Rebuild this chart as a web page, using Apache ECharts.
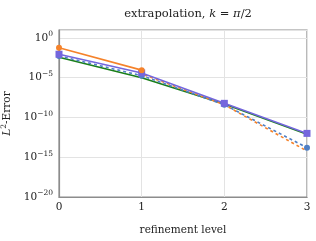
<!DOCTYPE html>
<html><head><meta charset="utf-8">
<script src="https://cdn.jsdelivr.net/npm/echarts@6/dist/echarts.min.js"></script>
<style>html,body{margin:0;padding:0;background:#fff}#c{width:316px;height:241px}</style>
</head><body><div id="c"></div>
<script>
const levels = [0, 1, 2, 3];
const orangeSolid = [6e-2, 9e-5, null, null];
const orangeDashed = [null, 3e-5, 4e-9, 6e-15];
const blueDashed = [5.5e-3, 1.8e-5, 4e-9, 1.6e-14];
const purpleSolid = [9e-3, 4e-5, 6e-9, 1e-12];
const greenSolid = [3.7e-3, 1e-5, 5e-9, 8e-13];
const yTickExps = [-20, -15, -10, -5, 0];

const FONT = 'DejaVu Serif';
const FS = 10.5;
const pairs = arr => levels.map((x, i) => [x, arr[i]]);
const sup = {'-20':'−20','-15':'−15','-10':'−10','-5':'−5','0':'0'};

const chart = echarts.init(document.getElementById('c'), null, {renderer: 'canvas'});
chart.setOption({
  animation: false,
  title: {
    text: '{n|extrapolation, }{i|k}{n| = }{i|π}{n|/2}',
    left: 183, top: 3, textAlign: 'center',
    textStyle: {fontWeight: 'normal', rich: {
      n: {fontFamily: FONT, fontSize: 11.5, fontWeight: 'normal', color: '#222'},
      i: {fontFamily: FONT, fontSize: 11.5, fontWeight: 'normal', fontStyle: 'italic', color: '#222'}
    }}
  },
  grid: {left: 59, right: 9, top: 30, bottom: 44, show: true, borderColor: '#8c8c8c', borderWidth: 1.2, containLabel: false, outerBoundsMode: 'none'},
  xAxis: {
    type: 'value', min: 0, max: 3, interval: 1,
    name: 'refinement level', nameLocation: 'middle', nameGap: 28,
    nameTextStyle: {fontFamily: FONT, fontSize: FS, color: '#222'},
    axisLine: {show: true, lineStyle: {color: '#8c8c8c', width: 1.2}},
    axisTick: {show: false},
    axisLabel: {fontFamily: FONT, fontSize: FS, color: '#222', margin: 5},
    splitLine: {show: true, lineStyle: {color: '#e3e3e3', width: 1}}
  },
  yAxis: {
    type: 'log', logBase: 10, min: 1e-20, max: 10, interval: 5,
    name: '{i|L}{s|2}{n|-Error}', nameLocation: 'middle', nameGap: 41,
    nameTextStyle: {rich: {
      i: {fontFamily: FONT, fontSize: FS, fontStyle: 'italic', color: '#222'},
      s: {fontFamily: FONT, fontSize: 7.5, color: '#222', padding: [0,0,6,0]},
      n: {fontFamily: FONT, fontSize: FS, color: '#222'}
    }},
    axisLine: {show: true, lineStyle: {color: '#8c8c8c', width: 1.2}},
    axisTick: {show: false},
    axisLabel: {
      showMaxLabel: false, margin: 6,
      formatter: v => {
        const e = Math.round(Math.log10(v));
        if (yTickExps.indexOf(e) < 0) return '';
        return '{b|10}{s|' + sup[String(e)] + '}';
      },
      rich: {
        b: {fontFamily: FONT, fontSize: FS, color: '#222'},
        s: {fontFamily: FONT, fontSize: 7.5, color: '#222', padding: [0,0,7,0]}
      }
    },
    splitLine: {show: true, lineStyle: {color: '#e3e3e3', width: 1}}
  },
  series: [
    {type: 'line', data: pairs(greenSolid), symbol: 'none', lineStyle: {color: '#1a7f1a', width: 1.6}, z: 2},
    {type: 'line', data: pairs(orangeDashed), symbol: 'none', lineStyle: {color: '#f5822a', width: 1.6, type: [3, 3], dashOffset: 3}, z: 3},
    {type: 'line', data: pairs(blueDashed), symbol: 'circle', symbolSize: 6, itemStyle: {color: '#4f7fc4'}, lineStyle: {color: '#4f7fc4', width: 1.6, type: [3, 3]}, z: 4},
    {type: 'line', data: pairs(purpleSolid), symbol: 'rect', symbolSize: 7, itemStyle: {color: '#7466dd'}, lineStyle: {color: '#7466dd', width: 1.6}, z: 5},
    {type: 'line', data: pairs(orangeSolid), symbol: 'circle', symbolSize: 6, itemStyle: {color: '#f5822a'}, lineStyle: {color: '#f5822a', width: 1.6}, z: 6}
  ]
});
</script></body></html>
